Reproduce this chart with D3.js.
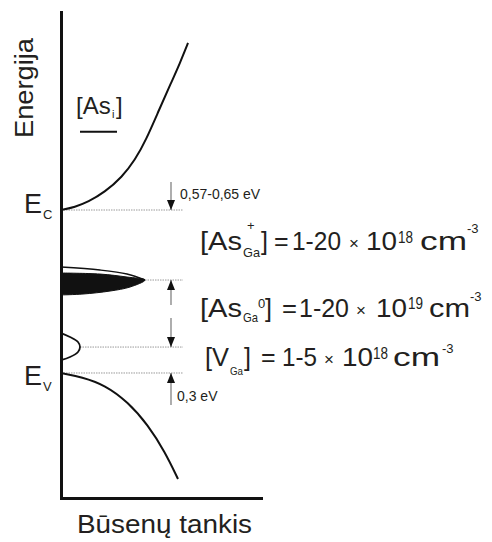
<!DOCTYPE html>
<html>
<head>
<meta charset="utf-8">
<script src="https://cdn.jsdelivr.net/npm/d3@7"></script>
<style>
  body { margin: 0; background: #fff; }
  text { font-family: "Liberation Sans", Arial, sans-serif; fill: #231f20; }
</style>
</head>
<body>
<div id="chart-area"></div>
<script>
// energies in eV, measured from the valence band edge (Ev = 0)
var levelNames  = ['Ec', 'AsGa', 'VGa', 'Ev'];
var levelEnergy = [1.42, 0.81, 0.226, 0];
var levelStart  = [0, 84, 19, 0];   // density where the dotted guide starts
var guideEnd = 122;

// conduction band density of states
var cbDos    = [0, 14, 27, 44, 61, 74, 85, 98, 110, 119, 127];
var cbEnergy = [1.420, 1.446, 1.490, 1.577, 1.707, 1.855, 2.030, 2.291, 2.526, 2.700, 2.875];

// valence band density of states
var vbDos    = [0, 21, 44, 67, 87, 104, 117];
var vbEnergy = [0, -0.035, -0.105, -0.253, -0.453, -0.688, -0.923];

// AsGa band: outlined upper edge and filled part
var asLineDos    = [0, 39, 66, 84];
var asLineEnergy = [0.923, 0.897, 0.862, 0.810];
var asFillDos    = [0, 39, 66, 84, 69, 49, 22, 0];
var asFillEnergy = [0.871, 0.862, 0.836, 0.810, 0.749, 0.714, 0.688, 0.680];

// VGa band
var vgDos    = [0, 9, 17, 19, 17, 9, 0];
var vgEnergy = [0.348, 0.314, 0.270, 0.226, 0.183, 0.139, 0.113];

// As_i level
var asiEnergy = 2.102;
var asiDos = [19, 56];

// arrows (energy from -> to)
var arrowDos = 110;
var arrowFrom = [1.664, 0.592, 0.479, -0.279];
var arrowTo   = [1.42, 0.81, 0.226, 0];

var W = 492, H = 542;

var svg = d3.select('#chart-area').append('svg')
    .attr('width', W)
    .attr('height', H);

var x = d3.scaleLinear()
    .domain([0, 200])
    .range([61, 261]);

var y = d3.scaleLinear()
    .domain([-1.089, 3.145])
    .range([498, 12]);

// arrow head
svg.append('defs').append('marker')
    .attr('id', 'head')
    .attr('markerUnits', 'userSpaceOnUse')
    .attr('markerWidth', 10)
    .attr('markerHeight', 9)
    .attr('refX', 10)
    .attr('refY', 4)
    .attr('orient', 'auto')
  .append('path')
    .attr('d', 'M0,0 L10,4 L0,8 Z')
    .attr('fill', '#111');

// dotted guides
svg.append('g').selectAll('line')
    .data(levelNames)
  .enter().append('line')
    .attr('x1', function(d, i){ return x(levelStart[i]); })
    .attr('x2', x(guideEnd))
    .attr('y1', function(d, i){ return y(levelEnergy[i]); })
    .attr('y2', function(d, i){ return y(levelEnergy[i]); })
    .attr('stroke', '#9a9a9a')
    .attr('stroke-width', 1)
    .attr('stroke-dasharray', '1.5,1');

// arrows
svg.append('g').selectAll('line')
    .data(arrowFrom)
  .enter().append('line')
    .attr('x1', x(arrowDos))
    .attr('x2', x(arrowDos))
    .attr('y1', function(d){ return y(d); })
    .attr('y2', function(d, i){ return y(arrowTo[i]); })
    .attr('stroke', '#777')
    .attr('stroke-width', 1.2)
    .attr('marker-end', 'url(#head)');

var curve = d3.line()
    .x(function(d){ return x(d[0]); })
    .y(function(d){ return y(d[1]); })
    .curve(d3.curveBasis);

var smooth = d3.line()
    .x(function(d){ return x(d[0]); })
    .y(function(d){ return y(d[1]); })
    .curve(d3.curveCatmullRom);

function pairs(a, b){ return a.map(function(v, i){ return [v, b[i]]; }); }

// bands
svg.append('path')
    .attr('d', curve(pairs(cbDos, cbEnergy)))
    .attr('fill', 'none').attr('stroke', '#111').attr('stroke-width', 2);

svg.append('path')
    .attr('d', curve(pairs(vbDos, vbEnergy)))
    .attr('fill', 'none').attr('stroke', '#111').attr('stroke-width', 2);

// AsGa peak
svg.append('path')
    .attr('d', smooth(pairs(asFillDos, asFillEnergy)) + 'Z')
    .attr('fill', '#111').attr('stroke', '#111').attr('stroke-width', 1);

svg.append('path')
    .attr('d', smooth(pairs(asLineDos, asLineEnergy)))
    .attr('fill', 'none').attr('stroke', '#111').attr('stroke-width', 1.5);

// VGa peak
svg.append('path')
    .attr('d', smooth(pairs(vgDos, vgEnergy)))
    .attr('fill', 'none').attr('stroke', '#111').attr('stroke-width', 1.8);

// As_i level
svg.append('line')
    .attr('x1', x(asiDos[0])).attr('x2', x(asiDos[1]))
    .attr('y1', y(asiEnergy)).attr('y2', y(asiEnergy))
    .attr('stroke', '#111').attr('stroke-width', 2);

// axes
svg.append('g')
    .attr('transform', 'translate(' + x(0) + ',0)')
    .call(d3.axisLeft(y).ticks(0).tickSizeOuter(0));
svg.append('g')
    .attr('transform', 'translate(0,' + y.range()[0] + ')')
    .call(d3.axisBottom(x).ticks(0).tickSizeOuter(0));
svg.selectAll('.domain')
    .attr('stroke', '#111')
    .attr('stroke-width', 3)
    .attr('stroke-linecap', 'square');

// text helper: pieces of [x, baseline, size, text, length]
function label(parts){
  var t = svg.append('text');
  parts.forEach(function(p){
    var s = t.append('tspan')
      .attr('x', p[0]).attr('y', p[1])
      .attr('font-size', p[2])
      .text(p[3]);
    if (p[4]) s.attr('textLength', p[4]).attr('lengthAdjust', 'spacingAndGlyphs');
  });
  return t;
}

// axis titles
svg.append('text')
    .attr('transform', 'translate(33,88) rotate(-90)')
    .attr('text-anchor', 'middle')
    .attr('font-size', 26)
    .attr('textLength', 100)
    .attr('lengthAdjust', 'spacingAndGlyphs')
    .text('Energija');

label([[77, 533, 25, 'Būsenų tankis', 175]]);

// band edges
label([[24, y(1.42) + 3, 27, 'E'], [43, y(1.42) + 9, 13, 'C']]);
label([[24, y(0) + 12, 27, 'E'], [43, y(0) + 18, 13, 'V']]);

// As_i
label([[76, 114, 24, '[As'], [112, 118, 11, 'i'], [116, 114, 24, ']']]);

// small energy labels
label([[180, 199, 14, '0,57-0,65 eV']]);
label([[177, 401, 14, '0,3 eV']]);

// concentrations
label([[200, 250, 25, '[As', 42], [243, 257, 13, 'Ga', 17], [247, 230, 13, '+'],
       [261, 250, 25, ']'], [274, 250, 25, '='], [292, 250, 25, '1-20', 49],
       [349, 249, 17, '×'], [366, 250, 25, '10', 31], [398, 243, 16, '18', 15],
       [420, 250, 25, 'cm', 47], [467, 233, 13, '-3']]);

label([[200, 317, 25, '[As', 42], [243, 322, 13, 'Ga', 15], [258, 308, 13, '0'],
       [265, 317, 25, ']'], [282, 317, 25, '=', 15], [299, 317, 25, '1-20', 50],
       [356, 316, 17, '×'], [376, 317, 25, '10', 31], [408, 309, 16, '19', 15],
       [429, 317, 25, 'cm', 41], [470, 301, 13, '-3']]);

label([[205, 366, 25, '[V', 24], [230, 375, 11, 'Ga', 13], [244, 366, 25, ']'],
       [261, 366, 25, '='], [282, 366, 25, '1-5', 35],
       [324, 365, 17, '×'], [342, 366, 25, '10', 31], [373, 359, 16, '18', 15],
       [393, 366, 25, 'cm', 47], [442, 353, 13, '-3']]);
</script>
</body>
</html>
